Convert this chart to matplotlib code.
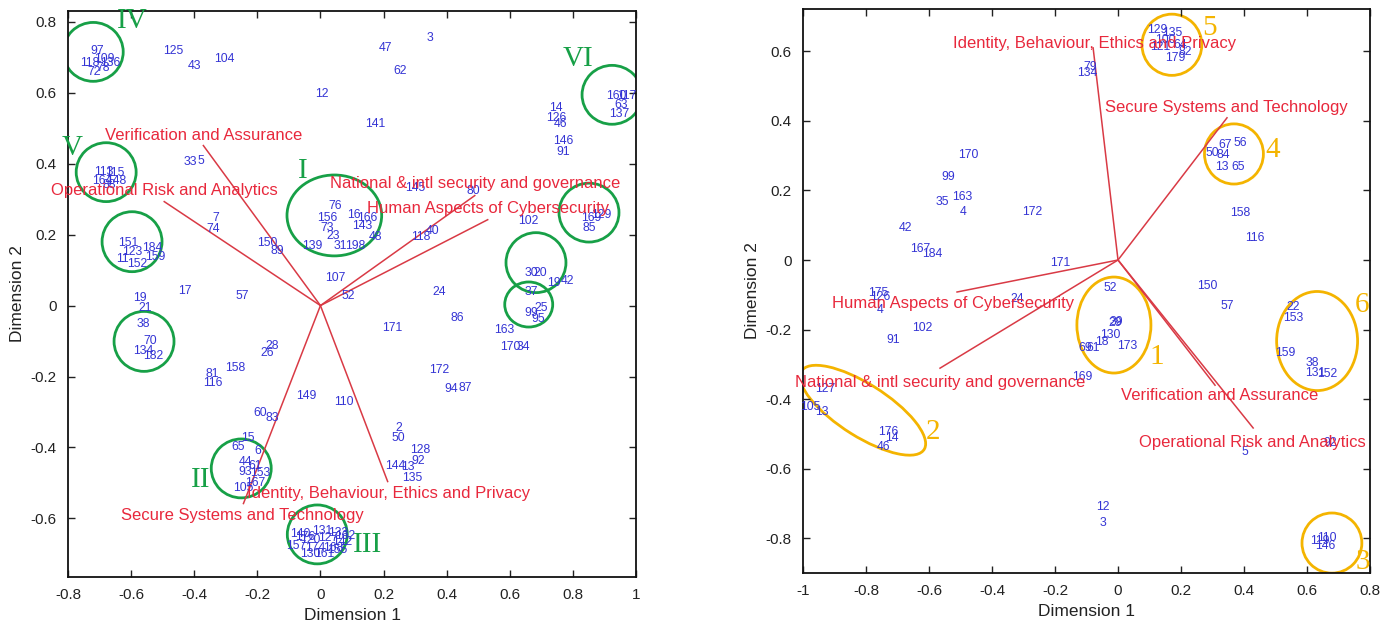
import matplotlib
matplotlib.use('Agg')
import matplotlib.pyplot as plt
from matplotlib.patches import Ellipse

plt.rcParams['font.family'] = ['Liberation Sans', 'DejaVu Sans']

# ---------- left panel data ----------
left_ids = ['97', '109', '118', '136', '72', '78', '125', '43', '104', '12', '47', '3', '62', '141',
            '160', '117', '63', '137', '14', '126', '46', '146', '91', '145', '80', '33', '5',
            '113', '115', '164', '148', '88',
            '76', '156', '16', '166', '73', '143', '23', '139', '31', '198', '48', '118', '40', '102',
            '169', '129', '85', '30', '20', '19', '42', '37', '25', '99', '95',
            '24', '86', '171', '163', '170', '34', '172', '94', '87',
            '151', '123', '11', '152', '184', '159',
            '70', '134', '182', '38', '19', '21',
            '7', '74', '17', '57', '150', '89', '107', '52', '158', '81', '116', '28', '26',
            '149', '110', '60', '83', '15', '65', '6',
            '44', '61', '93', '153', '105', '167',
            '2', '50', '128', '144', '13', '92', '135',
            '140', '131', '133', '120', '127', '142', '157', '174', '168', '130', '161', '176', '155', '162']
left_x = [-0.708, -0.686, -0.730, -0.667, -0.717, -0.689, -0.467, -0.40, -0.305, 0.003, 0.206, 0.346, 0.254, 0.175,
          0.937, 0.971, 0.952, 0.946, 0.746, 0.746, 0.762, 0.768, 0.768, 0.302, 0.483, -0.413, -0.378,
          -0.686, -0.651, -0.692, -0.648, -0.670,
          0.048, 0.022, 0.105, 0.149, 0.022, 0.133, 0.041, -0.025, 0.063, 0.111, 0.175, 0.317, 0.356, 0.660,
          0.857, 0.889, 0.851, 0.667, 0.698, 0.740, 0.784, 0.667, 0.698, 0.667, 0.689,
          0.375, 0.435, 0.229, 0.581, 0.603, 0.644, 0.375, 0.413, 0.460,
          -0.610, -0.597, -0.629, -0.581, -0.533, -0.524,
          -0.540, -0.562, -0.530, -0.562, -0.571, -0.556,
          -0.333, -0.340, -0.429, -0.248, -0.168, -0.137, 0.048, 0.089, -0.270, -0.343, -0.340, -0.152, -0.168,
          -0.044, 0.073, -0.190, -0.152, -0.229, -0.260, -0.200,
          -0.238, -0.206, -0.238, -0.190, -0.244, -0.206,
          0.248, 0.248, 0.317, 0.238, 0.276, 0.311, 0.292,
          -0.063, 0.006, 0.057, -0.032, 0.025, 0.070, -0.076, -0.016, 0.041, -0.032, 0.013, -0.048, 0.054, 0.079]
left_y = [0.718, 0.696, 0.685, 0.685, 0.659, 0.670, 0.718, 0.676, 0.696, 0.597, 0.727, 0.755, 0.662, 0.513,
          0.592, 0.592, 0.566, 0.541, 0.558, 0.530, 0.513, 0.465, 0.434, 0.330, 0.324, 0.406, 0.408,
          0.377, 0.375, 0.352, 0.352, 0.341,
          0.282, 0.248, 0.254, 0.248, 0.220, 0.225, 0.197, 0.169, 0.169, 0.169, 0.192, 0.192, 0.211, 0.237,
          0.248, 0.254, 0.220, 0.093, 0.093, 0.065, 0.070, 0.037, -0.008, -0.020, -0.037,
          0.037, -0.034, -0.062, -0.070, -0.118, -0.118, -0.183, -0.234, -0.231,
          0.177, 0.152, 0.132, 0.118, 0.163, 0.138,
          -0.099, -0.127, -0.141, -0.051, 0.020, -0.006,
          0.248, 0.217, 0.042, 0.028, 0.177, 0.155, 0.079, 0.028, -0.175, -0.192, -0.217, -0.113, -0.135,
          -0.256, -0.273, -0.304, -0.318, -0.372, -0.400, -0.411,
          -0.442, -0.451, -0.470, -0.473, -0.513, -0.501,
          -0.344, -0.372, -0.406, -0.451, -0.456, -0.437, -0.485,
          -0.645, -0.634, -0.642, -0.662, -0.656, -0.665, -0.679, -0.682, -0.682, -0.701, -0.699, -0.651, -0.690, -0.650]

left_vars = ['Verification and Assurance', 'Operational Risk and Analytics',
             'National & intl security and governance', 'Human Aspects of Cybersecurity',
             'Secure Systems and Technology', 'Identity, Behaviour, Ethics and Privacy']
left_vx = [-0.371, -0.495, 0.489, 0.530, -0.244, 0.213]
left_vy = [0.451, 0.293, 0.310, 0.242, -0.558, -0.496]
left_lab_x = [-0.371, -0.495, 0.489, 0.530, -0.248, 0.216]
left_lab_y = [0.479, 0.324, 0.344, 0.273, -0.592, -0.530]

# groups (hand-drawn circles)
left_grp_x = [0.044, -0.720, -0.679, -0.597, -0.559, 0.851, 0.683, 0.660, -0.251, -0.010, 0.924]
left_grp_y = [0.254, 0.715, 0.376, 0.180, -0.101, 0.262, 0.121, 0.003, -0.459, -0.645, 0.594]
left_grp_w = [0.30, 0.19, 0.19, 0.19, 0.19, 0.19, 0.19, 0.152, 0.19, 0.19, 0.19]
left_grp_h = [0.228, 0.166, 0.166, 0.169, 0.169, 0.166, 0.169, 0.127, 0.166, 0.166, 0.166]
left_roman = ['IV', 'V', 'I', 'VI', 'II', 'III']
left_roman_x = [-0.597, -0.787, -0.057, 0.816, -0.381, 0.149]
left_roman_y = [0.803, 0.445, 0.380, 0.696, -0.493, -0.676]

# ---------- right panel data ----------
right_ids = ['170', '99', '35', '163', '4', '172', '42', '167', '184', '171', '175', '126', '4', '24',
             '102', '91', '127', '105', '13', '176', '14', '46',
             '129', '135', '121', '82', '179', '100', '64', '79', '134',
             '67', '56', '50', '84', '13', '65', '158', '116', '150', '57',
             '52', '29', '39', '130', '18', '173', '69', '61', '169',
             '22', '153', '159', '38', '131', '152', '5', '12', '3', '92', '110', '146', '119']
right_x = [-0.476, -0.540, -0.559, -0.495, -0.492, -0.273, -0.676, -0.629, -0.590, -0.184, -0.762, -0.756, -0.756, -0.321,
           -0.622, -0.714, -0.930, -0.978, -0.940, -0.730, -0.717, -0.743,
           0.124, 0.171, 0.133, 0.213, 0.181, 0.149, 0.197, -0.089, -0.098,
           0.340, 0.387, 0.298, 0.333, 0.330, 0.381, 0.387, 0.435, 0.283, 0.346,
           -0.025, -0.010, -0.006, -0.025, -0.051, 0.029, -0.105, -0.079, -0.114,
           0.556, 0.556, 0.530, 0.616, 0.625, 0.663, 0.403, -0.048, -0.048, 0.673, 0.663, 0.657, 0.641]
right_y = [0.302, 0.239, 0.167, 0.181, 0.138, 0.138, 0.092, 0.032, 0.017, -0.009, -0.095, -0.106, -0.144, -0.112,
           -0.196, -0.230, -0.371, -0.423, -0.437, -0.495, -0.512, -0.538,
           0.662, 0.653, 0.613, 0.599, 0.581, 0.633, 0.619, 0.555, 0.538,
           0.331, 0.337, 0.308, 0.302, 0.268, 0.268, 0.135, 0.063, -0.075, -0.132,
           -0.081, -0.181, -0.178, -0.216, -0.236, -0.247, -0.253, -0.253, -0.337,
           -0.135, -0.167, -0.268, -0.296, -0.325, -0.328, -0.553, -0.711, -0.757, -0.527, -0.800, -0.823, -0.809]

right_vars = ['Identity, Behaviour, Ethics and Privacy', 'Secure Systems and Technology',
              'Human Aspects of Cybersecurity', 'National & intl security and governance',
              'Verification and Assurance', 'Operational Risk and Analytics']
right_vx = [-0.079, 0.346, -0.511, -0.565, 0.308, 0.429]
right_vy = [0.610, 0.409, -0.092, -0.311, -0.360, -0.483]
right_lab_x = [-0.076, 0.343, -0.524, -0.565, 0.324, 0.425]
right_lab_y = [0.624, 0.440, -0.124, -0.351, -0.391, -0.524]

right_grp_x = [0.171, 0.368, -0.013, 0.632, 0.679, -0.810]
right_grp_y = [0.619, 0.305, -0.187, -0.233, -0.814, -0.432]
right_grp_w = [0.19, 0.187, 0.235, 0.257, 0.19, 0.45]
right_grp_h = [0.176, 0.173, 0.276, 0.285, 0.173, 0.153]
right_grp_angle = [0, 0, 0, 0, 0, -29.5]
right_nums = ['5', '4', '1', '6', '2', '3']
right_nums_x = [0.292, 0.492, 0.124, 0.775, -0.587, 0.778]
right_nums_y = [0.668, 0.317, -0.279, -0.129, -0.495, -0.869]

blue = '#3434d4'
red_line = '#d93a45'
red_text = '#e8283c'
green = '#17a047'
orange = '#f4b400'

fig = plt.figure(figsize=(13.96, 6.26), dpi=100)
ax1 = fig.add_axes([0.0487, 0.0783, 0.4069, 0.904])
ax2 = fig.add_axes([0.5752, 0.0847, 0.4062, 0.901])


def style_axes(ax, xlim, ylim, xticks, yticks):
    ax.set_xlim(xlim)
    ax.set_ylim(ylim)
    ax.set_xticks(xticks)
    ax.set_xticklabels(['0' if abs(t) < 1e-9 else ('%g' % t) for t in xticks])
    ax.set_yticks(yticks)
    ax.set_yticklabels(['0' if abs(t) < 1e-9 else ('%g' % t) for t in yticks])
    ax.tick_params(direction='in', top=True, right=True, length=5, width=1,
                   labelsize=11, colors='#222222', pad=8)
    for s in ax.spines.values():
        s.set_linewidth(1.3)
        s.set_color('#111111')
    ax.set_xlabel('Dimension 1', fontsize=12.5, color='#222222')
    ax.set_ylabel('Dimension 2', fontsize=12.5, color='#222222')


# left biplot
style_axes(ax1, (-0.8, 1.0), (-0.765, 0.83),
           [-0.8, -0.6, -0.4, -0.2, 0, 0.2, 0.4, 0.6, 0.8, 1.0],
           [-0.6, -0.4, -0.2, 0, 0.2, 0.4, 0.6, 0.8])
for lab, x, y in zip(left_ids, left_x, left_y):
    ax1.text(x, y, lab, color=blue, fontsize=8.8, ha='center', va='center')
for name, vx, vy, lx, ly in zip(left_vars, left_vx, left_vy, left_lab_x, left_lab_y):
    ax1.plot([0, vx], [0, vy], color=red_line, lw=1.1)
    ax1.text(lx, ly, name, color=red_text, fontsize=12, ha='center', va='center')
for x, y, w, h in zip(left_grp_x, left_grp_y, left_grp_w, left_grp_h):
    ax1.add_patch(Ellipse((x, y), w, h, fill=False, ec=green, lw=2))
for t, x, y in zip(left_roman, left_roman_x, left_roman_y):
    ax1.text(x, y, t, color=green, fontsize=21, family='Liberation Serif',
             ha='center', va='center')

# right biplot
style_axes(ax2, (-1.0, 0.8), (-0.9, 0.722),
           [-1.0, -0.8, -0.6, -0.4, -0.2, 0, 0.2, 0.4, 0.6, 0.8],
           [-0.8, -0.6, -0.4, -0.2, 0, 0.2, 0.4, 0.6])
for lab, x, y in zip(right_ids, right_x, right_y):
    ax2.text(x, y, lab, color=blue, fontsize=8.8, ha='center', va='center')
for name, vx, vy, lx, ly in zip(right_vars, right_vx, right_vy, right_lab_x, right_lab_y):
    ax2.plot([0, vx], [0, vy], color=red_line, lw=1.1)
    ax2.text(lx, ly, name, color=red_text, fontsize=12, ha='center', va='center')
for x, y, w, h, a in zip(right_grp_x, right_grp_y, right_grp_w, right_grp_h, right_grp_angle):
    ax2.add_patch(Ellipse((x, y), w, h, angle=a, fill=False, ec=orange, lw=2))
for t, x, y in zip(right_nums, right_nums_x, right_nums_y):
    ax2.text(x, y, t, color=orange, fontsize=21, family='Liberation Serif',
             ha='center', va='center', clip_on=False)

fig.savefig('out.png', dpi=100)
